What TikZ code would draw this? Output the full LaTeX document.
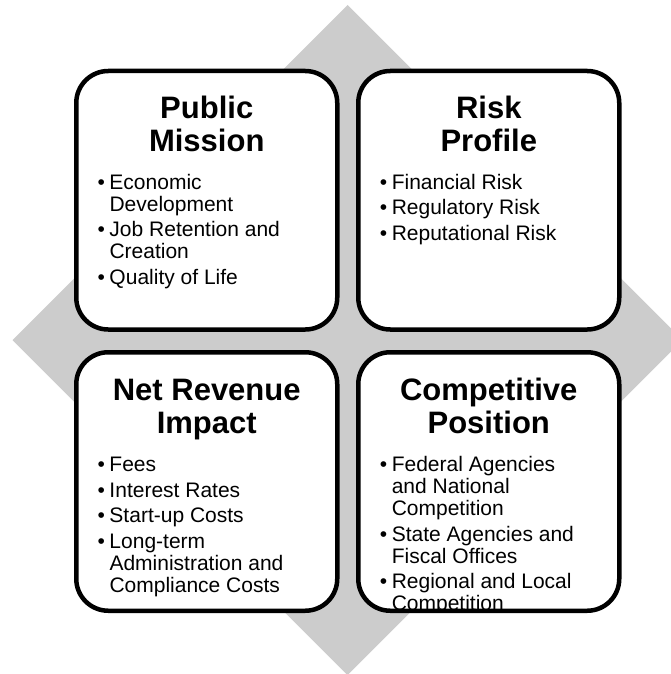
\documentclass[tikz,border=0pt]{standalone}
\usepackage{fontspec}
\setmainfont{Liberation Sans}
\usepackage{tikz}

\definecolor{diamondgray}{RGB}{204,204,204}
\newcommand\titlefont{\bfseries\fontsize{31}{33}\selectfont}
\newcommand\listfont{\fontsize{21}{22}\selectfont}
\newcommand\bitem[1]{\par\noindent\hangindent=12pt\hangafter=1\makebox[12pt][l]{•}#1}

\begin{document}
\begin{tikzpicture}[x=1pt,y=-1pt,
        card/.style={draw=black, fill=white, line width=4.5pt,
            rounded corners=32pt, minimum width=261pt, minimum height=258.5pt,
            inner sep=0pt, outer sep=0pt},
        cardtitle/.style={anchor=base, inner sep=0pt, font=\titlefont},
        cardlist/.style={anchor=base west, inner sep=0pt, font=\listfont}
    ]
    \useasboundingbox (0,0) rectangle (670,674);
    \fill[diamondgray] (347.5,5) -- (682.5,340) -- (347.5,675) -- (12.5,340) -- cycle;

    % the four cards
    \node[card] (pm) at (206.75,200.25) {};
    \node[card] (rp) at (488.75,200.25) {};
    \node[card] (nr) at (206.75,481.5) {};
    \node[card] (cp) at (488.75,481.5) {};

    \node[cardtitle] (pmtitle) at (206.75,118.5) {\parbox[t]{250pt}{\centering Public\\Mission}};
    \node[cardtitle] (rptitle) at (488.75,118.5) {\parbox[t]{250pt}{\centering Risk\\Profile}};
    \node[cardtitle] (nrtitle) at (206.75,400.5) {\parbox[t]{250pt}{\centering Net Revenue\\Impact}};
    \node[cardtitle] (cptitle) at (488.75,400.5) {\parbox[t]{250pt}{\centering Competitive\\Position}};

    \node[cardlist] (pmlist) at (97.3,189) {\parbox[t]{230pt}{\parskip=3.7pt
        \bitem{Economic\newline Development}
        \bitem{Job Retention and\newline Creation}
        \bitem{Quality of Life}}};
    \node[cardlist] (rplist) at (379.6,189) {\parbox[t]{230pt}{\parskip=3.7pt
        \bitem{Financial Risk}
        \bitem{Regulatory Risk}
        \bitem{Reputational Risk}}};
    \node[cardlist] (nrlist) at (97.3,471.5) {\parbox[t]{230pt}{\parskip=3.7pt
        \bitem{Fees}
        \bitem{Interest Rates}
        \bitem{Start-up Costs}
        \bitem{Long-term\newline Administration and\newline Compliance Costs}}};

    % last card runs over its border
    \begin{scope}
        \clip[rounded corners=29.75pt] ([shift={(2.25,-2.25)}]cp.south west) rectangle ([shift={(-2.25,2.25)}]cp.north east);
        \node[cardlist] (cplist) at (379.6,471.5) {\parbox[t]{230pt}{\parskip=3.7pt
            \bitem{Federal Agencies\newline and National\newline Competition}
            \bitem{State Agencies and\newline Fiscal Offices}
            \bitem{Regional and Local\newline Competition}}};
    \end{scope}
\end{tikzpicture}
\end{document}
